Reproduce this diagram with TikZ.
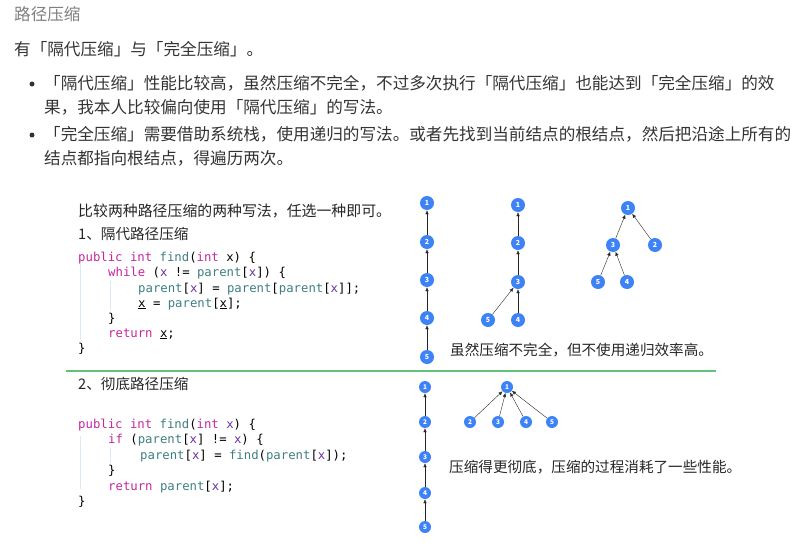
\documentclass[tikz,border=0pt]{standalone}
\usepackage{fontspec}
\setmainfont{Noto Sans CJK SC}
\setmonofont{DejaVu Sans Mono}
\usetikzlibrary{arrows.meta}

\definecolor{kwpink}{HTML}{C4279F}
\definecolor{fnteal}{HTML}{3F7E84}
\definecolor{varpurple}{HTML}{6A30A8}
\definecolor{nodeblue}{HTML}{3D83F5}
\definecolor{rulegreen}{HTML}{63C27A}
\definecolor{guideblue}{HTML}{DCE8F6}
\definecolor{txtgray}{HTML}{333333}

\newcommand{\kwd}[1]{\textcolor{kwpink}{#1}}
\newcommand{\fnc}[1]{\textcolor{fnteal}{#1}}
\newcommand{\pvar}[1]{\textcolor{varpurple}{#1}}

\begin{document}
\begin{tikzpicture}[x=1pt, y=-1pt,
  big/.style={anchor=west, inner sep=0pt, text=txtgray, font=\fontsize{16.6}{20}\selectfont},
  small/.style={anchor=west, inner sep=0pt, text=black!85, font=\fontsize{14.6}{18}\selectfont},
  code/.style={anchor=base west, inner sep=0pt, font=\ttfamily\fontsize{12.3}{15}\selectfont},
  tnode/.style={circle, fill=nodeblue, text=white, inner sep=0pt, minimum size=14pt, font=\fontsize{7}{8}\selectfont\bfseries},
  snode/.style={tnode, minimum size=12pt, font=\fontsize{6.5}{7}\selectfont\bfseries},
  up/.style={draw=black!85, thin, arrows={-Latex[length=4pt, width=3.5pt]}}]
\useasboundingbox (0, 0) rectangle (801, 549);

% page text
\node[big, text=black!50] (title) at (14, 14) {路径压缩};
\node[big] (intro) at (14, 49) {有「隔代压缩」与「完全压缩」。};
\fill[txtgray] (32, 84) circle [radius=2.5];
\node[big] (b1l1) at (44, 83) {「隔代压缩」性能比较高，虽然压缩不完全，不过多次执行「隔代压缩」也能达到「完全压缩」的效};
\node[big] (b1l2) at (44, 107) {果，我本人比较偏向使用「隔代压缩」的写法。};
\fill[txtgray] (32, 135) circle [radius=2.5];
\node[big] (b2l1) at (44, 134) {「完全压缩」需要借助系统栈，使用递归的写法。或者先找到当前结点的根结点，然后把沿途上所有的};
\node[big] (b2l2) at (44, 158) {结点都指向根结点，得遍历两次。};

% left half: code
\node[small, font=\fontsize{14.9}{18}\selectfont] (head) at (78, 211) {比较两种路径压缩的两种写法，任选一种即可。};
\node[small] (sub1) at (78, 234) {1、隔代路径压缩};
\draw[guideblue] (80, 264) -- (80, 340);
\draw[guideblue] (110, 281) -- (110, 310);
\node[code] (codea1) at (78, 261) {\kwd{public} \kwd{int} \fnc{find}(\kwd{int} x) \{};
\node[code] (codea2) at (108, 276) {\kwd{while} (\pvar{x} != \fnc{parent}[\pvar{x}]) \{};
\node[code] (codea3) at (138, 292) {\fnc{parent}[\pvar{x}] = \fnc{parent}[\fnc{parent}[\pvar{x}]];};
\node[code] (codea4) at (138, 307) {\underline{x} = \fnc{parent}[\underline{x}];};
\node[code] (codea5) at (108, 322) {\}};
\node[code] (codea6) at (108, 337) {\kwd{return} \underline{x};};
\node[code] (codea7) at (78, 352) {\}};

\draw[rulegreen, line width=1.5pt] (66, 371) -- (716, 371);

\node[small] (sub2) at (78, 384) {2、彻底路径压缩};
\draw[guideblue] (80, 436) -- (80, 489);
\draw[guideblue] (110, 448) -- (110, 463);
\node[code] (codeb1) at (78, 428) {\kwd{public} \kwd{int} \fnc{find}(\kwd{int} \pvar{x}) \{};
\node[code] (codeb2) at (108, 443) {\kwd{if} (\fnc{parent}[\pvar{x}] != \pvar{x}) \{};
\node[code] (codeb3) at (140, 459) {\fnc{parent}[\pvar{x}] = \fnc{find}(\fnc{parent}[\pvar{x}]);};
\node[code] (codeb4) at (108, 474) {\}};
\node[code] (codeb5) at (108, 490) {\kwd{return} \fnc{parent}[\pvar{x}];};
\node[code] (codeb6) at (78, 505) {\}};

% right half: trees, first way
\node[tnode] (a1) at (427, 203) {1};
\node[tnode] (a2) at (427, 242) {2};
\node[tnode] (a3) at (427, 280) {3};
\node[tnode] (a4) at (427, 318) {4};
\node[tnode] (a5) at (427, 357) {5};
\draw[up] (a2) -- (a1);
\draw[up] (a3) -- (a2);
\draw[up] (a4) -- (a3);
\draw[up] (a5) -- (a4);

\node[tnode] (b1) at (518, 205) {1};
\node[tnode] (b2) at (518, 243) {2};
\node[tnode] (b3) at (518, 282) {3};
\node[tnode] (b5) at (488, 320) {5};
\node[tnode] (b4) at (518, 320) {4};
\draw[up] (b2) -- (b1);
\draw[up] (b3) -- (b2);
\draw[up] (b5) -- (b3);
\draw[up] (b4) -- (b3);

\node[tnode] (c1) at (628, 208) {1};
\node[tnode] (c3) at (613, 245) {3};
\node[tnode] (c2) at (655, 245) {2};
\node[tnode] (c5) at (598, 282) {5};
\node[tnode] (c4) at (627, 282) {4};
\draw[up] (c3) -- (c1);
\draw[up] (c2) -- (c1);
\draw[up] (c5) -- (c3);
\draw[up] (c4) -- (c3);

\node[small] (note1) at (450, 350) {虽然压缩不完全，但不使用递归效率高。};

% right half: trees, second way
\node[snode] (d1) at (425, 387) {1};
\node[snode] (d2) at (425, 422) {2};
\node[snode] (d3) at (425, 457) {3};
\node[snode] (d4) at (425, 493) {4};
\node[snode] (d5) at (425, 527) {5};
\draw[up] (d2) -- (d1);
\draw[up] (d3) -- (d2);
\draw[up] (d4) -- (d3);
\draw[up] (d5) -- (d4);

\node[snode] (e1) at (507, 387) {1};
\node[snode] (e2) at (470, 422) {2};
\node[snode] (e3) at (498, 422) {3};
\node[snode] (e4) at (526, 422) {4};
\node[snode] (e5) at (552, 422) {5};
\draw[up] (e2) -- (e1);
\draw[up] (e3) -- (e1);
\draw[up] (e4) -- (e1);
\draw[up] (e5) -- (e1);

\node[small] (note2) at (449, 467) {压缩得更彻底，压缩的过程消耗了一些性能。};
\end{tikzpicture}
\end{document}
